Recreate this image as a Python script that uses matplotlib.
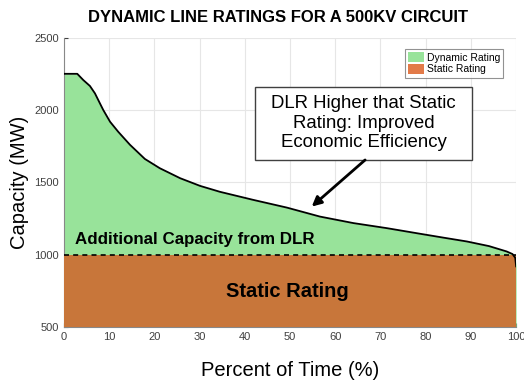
import numpy as np
import matplotlib
matplotlib.use('Agg')
import matplotlib.pyplot as plt
from matplotlib.patches import Patch, Rectangle

# percent of time vs dynamic rating (MW)
pct = [0, 2.95, 4.28, 5.75, 6.86, 7.96, 8.7, 10.2, 12.0, 14.6, 17.9, 21.2,
       25.7, 30.1, 34.5, 41.9, 49.3, 56.6, 64, 71.4, 78.8, 84, 89.1, 94,
       97.9, 99.2, 99.8, 100]
dlr = [2250, 2250, 2207, 2166, 2115, 2046, 2000, 1919, 1850, 1760, 1662,
       1598, 1529, 1476, 1435, 1379, 1326, 1264, 1219, 1184, 1145, 1118,
       1092, 1060, 1023, 1005, 979, 920]
static_rating = 1000
y_floor = 500

x_ticks = list(range(0, 101, 10))
y_ticks = [500, 1000, 1500, 2000, 2500]

green = '#98e39a'
orange = '#c8763a'

plt.rcParams['font.family'] = ['Liberation Sans', 'DejaVu Sans']

fig = plt.figure(figsize=(5.24, 3.8), dpi=100)
ax = fig.add_axes([0.122, 0.139, 0.863, 0.762])

x = np.array(pct)
y = np.array(dlr)
ax.fill_between(x, y_floor, y, color=green, linewidth=0, zorder=2)
ax.fill_between(x, y_floor, static_rating, color=orange, linewidth=0, zorder=3)
ax.plot(x, y, color='black', linewidth=1.3, zorder=4)
ax.plot([0, 100], [static_rating, static_rating], color='black',
        linestyle=(0, (3, 2.5)), linewidth=1.2, zorder=5)

ax.set_xlim(0, 100)
ax.set_ylim(500, 2500)
ax.set_xticks(x_ticks)
ax.set_yticks(y_ticks)
ax.grid(True, color='#e6e6e6', linewidth=0.8, zorder=0)
ax.set_axisbelow(True)
ax.tick_params(direction='in', length=3, labelsize=8, colors='#404040',
               labelcolor='#404040')
for s in ['top', 'right']:
    ax.spines[s].set_visible(False)
for s in ['left', 'bottom']:
    ax.spines[s].set_color('#888888')
    ax.spines[s].set_linewidth(0.8)

ax.set_xlabel('Percent of Time (%)', fontsize=14.5, labelpad=14)
ax.set_ylabel('Capacity (MW)', fontsize=14.5, labelpad=4)
fig.text(0.53, 0.955, 'DYNAMIC LINE RATINGS FOR A 500KV CIRCUIT',
         ha='center', va='center', fontsize=12, fontweight='bold')

ax.text(2.5, 1119, 'Additional Capacity from DLR', fontsize=12.2,
        fontweight='bold', ha='left', va='center_baseline', zorder=6)
ax.text(49.5, 745, 'Static Rating', fontsize=14.5, fontweight='bold',
        ha='center', va='center', zorder=6)

# callout box
ax.add_patch(Rectangle((42.3, 1655), 48.0, 506, facecolor='white',
                       edgecolor='#404040', linewidth=1, zorder=7))
ax.text(66.3, 1910, 'DLR Higher that Static\nRating: Improved\nEconomic Efficiency',
        fontsize=13.4, ha='center', va='center', linespacing=1.22, zorder=8)
ax.annotate('', xy=(54.8, 1333), xytext=(66.6, 1655),
            arrowprops=dict(arrowstyle='-|>', color='black', lw=2,
                            mutation_scale=14, shrinkA=0, shrinkB=0),
            zorder=8)

handles = [Patch(facecolor=green, edgecolor='none', label='Dynamic Rating'),
           Patch(facecolor='#e27a48', edgecolor='none', label='Static Rating')]
leg = ax.legend(handles=handles, loc='upper right', fontsize=7.5,
                frameon=True, fancybox=False, edgecolor='#777777',
                borderpad=0.3, handlelength=1.5, handleheight=1.2,
                handletextpad=0.3, labelspacing=0.1,
                bbox_to_anchor=(0.983, 0.98))
leg.get_frame().set_linewidth(0.8)
leg.set_zorder(9)

fig.savefig('out.png', dpi=100)
